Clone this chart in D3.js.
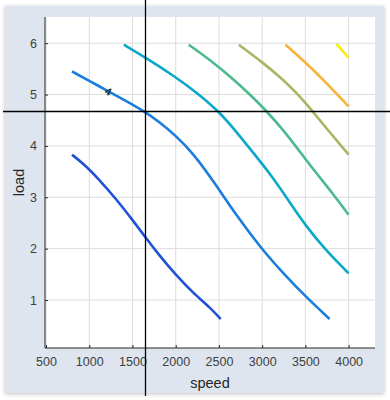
<!DOCTYPE html>
<html><head><meta charset="utf-8">
<script src="https://cdn.jsdelivr.net/npm/d3@7"></script>
<style>html,body{margin:0;padding:0;background:#fff;}svg{display:block;}</style>
</head><body>
<svg id="chart" width="390" height="400"></svg>
<script>
// ---- data ----
const xTicks = [500, 1000, 1500, 2000, 2500, 3000, 3500, 4000];
const yTicks = [1, 2, 3, 4, 5, 6];
const levels = [2, 4, 6, 8, 10, 12, 14];
const levelColors = ["#1f52d4", "#1b7ddc", "#0ba9c7", "#4bba8c", "#a5b863", "#f9b23b", "#f6ee0e"];
const contour1 = [[800,3.83],[950,3.63],[1100,3.37],[1300,2.99],[1500,2.56],[1650,2.22],[1800,1.89],[2000,1.49],[2200,1.14],[2400,0.85],[2520,0.63]];
const contour2 = [[800,5.45],[1000,5.27],[1200,5.08],[1400,4.9],[1640,4.67],[1800,4.48],[2000,4.2],[2200,3.86],[2450,3.28],[2700,2.65],[3000,1.98],[3250,1.51],[3500,1.07],[3780,0.63]];
const contour3 = [[1400,5.97],[1650,5.72],[2000,5.34],[2250,5.03],[2500,4.67],[2700,4.28],[2900,3.86],[3100,3.44],[3300,2.95],[3500,2.45],[3750,1.94],[4000,1.52]];
const contour4 = [[2150,5.97],[2400,5.67],[2630,5.35],[2860,5.0],[3050,4.68],[3250,4.3],[3440,3.88],[3630,3.46],[3800,3.11],[4000,2.66]];
const contour5 = [[2730,5.97],[3010,5.62],[3250,5.28],[3400,5.03],[3550,4.74],[3750,4.33],[4000,3.83]];
const contour6 = [[3270,5.97],[3550,5.55],[3780,5.16],[4000,4.77]];
const contour7 = [[3860,5.98],[4000,5.72]];
const contours = [contour1, contour2, contour3, contour4, contour5, contour6, contour7];
const labelText = "4";
const labelAt = [1220, 5.06];
const crosshair = [1640, 4.68];
const xLabel = "speed", yLabel = "load";

// ---- layout ----
const svg = d3.select("#chart");
const pL = 45, pR = 375, pT = 17, pB = 348;
const x = d3.scaleLinear().domain([488, 4305]).range([pL, pR]);
const y = d3.scaleLinear().domain([0.066, 6.51]).range([pB, pT]);
const FONT = "Liberation Sans, Arial, sans-serif";

const defs = svg.append("defs");
const f = defs.append("filter").attr("id","sh").attr("x","-5%").attr("y","-5%").attr("width","110%").attr("height","110%");
f.append("feGaussianBlur").attr("in","SourceAlpha").attr("stdDeviation",2).attr("result","b");
f.append("feOffset").attr("in","b").attr("dx",0).attr("dy",1).attr("result","o");
f.append("feComponentTransfer").attr("in","o").attr("result","oc").append("feFuncA").attr("type","linear").attr("slope",0.25);
const fm = f.append("feMerge");
fm.append("feMergeNode").attr("in","oc");
fm.append("feMergeNode").attr("in","SourceGraphic");

svg.append("rect").attr("x",5).attr("y",6).attr("width",379).attr("height",387)
  .attr("fill","#dee5ef").attr("filter","url(#sh)");
svg.append("rect").attr("x",pL).attr("y",pT).attr("width",pR-pL).attr("height",pB-pT).attr("fill","#fff");

// grid
const g = svg.append("g");
g.selectAll(".vg").data(xTicks).join("line")
  .attr("x1",d=>x(d)).attr("x2",d=>x(d)).attr("y1",pT).attr("y2",pB)
  .attr("stroke","#dcdcdc").attr("stroke-width",1);
g.selectAll(".hg").data(yTicks).join("line")
  .attr("y1",d=>y(d)).attr("y2",d=>y(d)).attr("x1",pL).attr("x2",pR)
  .attr("stroke","#dcdcdc").attr("stroke-width",1);

// axes
const xAxis = d3.axisBottom(x).tickValues(xTicks).tickSize(-3).tickPadding(9).tickFormat(d3.format("d"));
const yAxis = d3.axisLeft(y).tickValues(yTicks).tickSize(-3).tickPadding(8).tickFormat(d3.format("d"));
const gx = svg.append("g").attr("transform",`translate(0,${pB})`).call(xAxis);
const gy = svg.append("g").attr("transform",`translate(${pL},0)`).call(yAxis);
[gx, gy].forEach(a => {
  a.select(".domain").attr("stroke","#262626").attr("stroke-width",1);
  a.selectAll(".tick line").attr("stroke","#262626");
  a.selectAll(".tick text").attr("fill","#404040").attr("font-family",FONT).attr("font-size",12.5);
});
gx.select(".domain").attr("d",`M${pL},0H${pR}`);
gy.select(".domain").attr("d",`M0,${pB}V${pT}`);

svg.append("text").attr("x",(pL+pR)/2).attr("y",388).attr("text-anchor","middle")
  .attr("font-family",FONT).attr("font-size",14.5).attr("fill","#262626").text(xLabel);
svg.append("text").attr("transform",`translate(24,${(pT+pB)/2}) rotate(-90)`).attr("text-anchor","middle")
  .attr("font-family",FONT).attr("font-size",14.5).attr("fill","#262626").text(yLabel);

// contour lines
const line = d3.line().x(d=>x(d[0])).y(d=>y(d[1])).curve(d3.curveBasis);
svg.append("g").selectAll("path").data(contours).join("path")
  .attr("d", line).attr("fill","none")
  .attr("stroke",(d,i)=>levelColors[i]).attr("stroke-width",2.6).attr("stroke-linecap","butt");

// contour label
svg.append("text").attr("transform",`translate(${x(labelAt[0])},${y(labelAt[1])}) rotate(28)`)
  .attr("text-anchor","middle").attr("dy","0.35em")
  .attr("font-family",FONT).attr("font-size",11).attr("fill","#000").text(labelText);

// crosshair
svg.append("line").attr("x1",Math.round(x(crosshair[0]))+0.5).attr("x2",Math.round(x(crosshair[0]))+0.5).attr("y1",0).attr("y2",396)
  .attr("stroke","#000").attr("stroke-width",1.3);
svg.append("line").attr("y1",Math.round(y(crosshair[1]))+0.5).attr("y2",Math.round(y(crosshair[1]))+0.5).attr("x1",3).attr("x2",390)
  .attr("stroke","#000").attr("stroke-width",1.3);
</script>
</body></html>
